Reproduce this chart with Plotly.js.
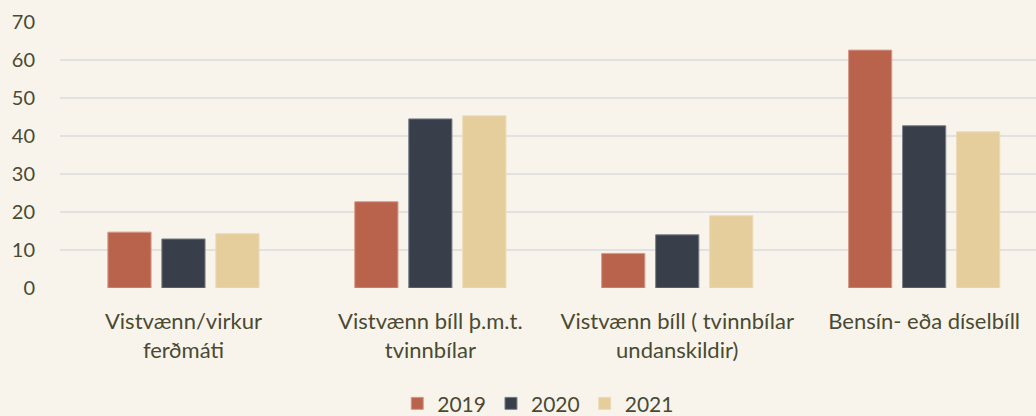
<!DOCTYPE html>
<html>
<head>
<meta charset="utf-8">
<script src="https://cdn.plot.ly/plotly-3.0.1.min.js"></script>
<style>html,body{margin:0;padding:0;background:#F8F4EC;}</style>
</head>
<body>
<div id="chart" style="width:1036px;height:416px;"></div>
<script>
const categories = [
  "Vistvænn/virkur<br>ferðmáti",
  "Vistvænn bíll þ.m.t.<br>tvinnbílar",
  "Vistvænn bíll ( tvinnbílar<br>undanskildir)",
  "Bensín- eða díselbíll"
];
const seriesNames = ["2019", "2020", "2021"];
const values2019 = [14.7, 22.7, 9.1, 62.6];
const values2020 = [12.9, 44.5, 14.0, 42.7];
const values2021 = [14.3, 45.3, 19.0, 41.1];
const yTicks = [0, 10, 20, 30, 40, 50, 60, 70];

const colors = ["#B9634C", "#383F4A", "#E6CE9C"];
const lineColors = ["#D49A88", "#7A808A", "#EADBB8"];
const allValues = [values2019, values2020, values2021];
const xIdx = categories.map((c, i) => i);

const traces = allValues.map((vals, k) => ({
  type: "bar",
  name: seriesNames[k],
  x: xIdx,
  y: vals,
  marker: {color: colors[k], line: {color: lineColors[k], width: 1}},
  hoverinfo: "x+y"
}));

const textColor = "#4A4A32";
const layout = {
  width: 1036, height: 416,
  paper_bgcolor: "#F8F4EC",
  plot_bgcolor: "#F8F4EC",
  font: {family: "Lato, 'Noto Sans', sans-serif", color: textColor, size: 17},
  margin: {l: 60, r: 0, t: 22, b: 128, autoexpand: false},
  barmode: "group",
  bargap: 0.344,
  bargroupgap: 0.2,
  xaxis: {
    range: [-0.5, 3.453],
    tickmode: "array",
    tickvals: xIdx,
    ticktext: categories,
    showgrid: false,
    zeroline: false,
    showline: false,
    ticks: "",
    ticklabelstandoff: 18,
    tickfont: {size: 22, color: textColor},
    automargin: false
  },
  yaxis: {
    range: [0, 70],
    tickmode: "array",
    tickvals: yTicks,
    showgrid: true,
    gridcolor: "#E1E1E1",
    gridwidth: 1.5,
    zeroline: false,
    showline: false,
    ticks: "",
    ticklabelstandoff: 24,
    tickfont: {size: 20, color: textColor},
    automargin: false
  },
  legend: {
    orientation: "h",
    x: 0.49, xanchor: "center",
    y: -0.435, yanchor: "middle",
    font: {size: 21, color: textColor},
    bgcolor: "rgba(0,0,0,0)",
    itemwidth: 30
  },
  showlegend: true
};

Plotly.newPlot("chart", traces, layout, {displayModeBar: false, staticPlot: true});
</script>
</body>
</html>
